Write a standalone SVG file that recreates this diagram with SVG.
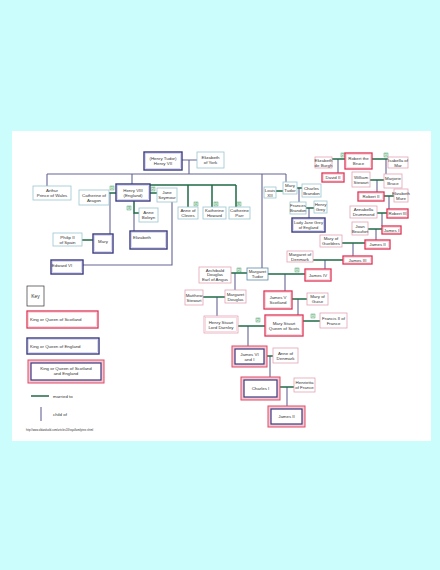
<svg xmlns="http://www.w3.org/2000/svg" width="440" height="570" viewBox="0 0 440 570">
<style>
text{font-family:"Liberation Sans",Arial,sans-serif;font-size:4.4px;fill:#333;text-anchor:middle}
.k{text-anchor:start}
.sp{fill:#fff;stroke:#9cc6cf;stroke-width:0.8}
.ss{fill:#fff;stroke:#e3a2b4;stroke-width:0.8}
.eo{fill:#fff;stroke:#3a3a80;stroke-width:1.4}
.ei{fill:none;stroke:#b4b4e2;stroke-width:0.5}
.so{fill:#fff;stroke:#df3355;stroke-width:1.3}
.si{fill:none;stroke:#f3b6c4;stroke-width:0.5}
.bo{fill:#f6c8d2;stroke:#e04a66;stroke-width:1}
.bi{fill:#fff;stroke:#3a3a80;stroke-width:1.2}
.m{stroke:#1f6b45;stroke-width:1.5;fill:none}
.c{stroke:#646496;stroke-width:1.1;fill:none}
.tg rect{fill:#dcf2dc;stroke:#2e8b57;stroke-width:0.4}
.tg text{font-size:3.2px;fill:#2e8b57}
</style>
<rect width="440" height="570" fill="#cbfdfd"/>
<rect x="12" y="131" width="419" height="310" fill="#fff"/>

<g id="connectors">
<!-- child lines -->
<path class="c" d="M182 160H197M189 160V174M47 174H286M47 174V186M132 174V184M262 174V268M286 174V182"/>
<path class="c" d="M110 193V234M134 213V231M172 202V265H83"/>
<path class="c" d="M299 188V202M309 208V218"/>
<path class="c" d="M338 159V173M386 159V174M377 180V192M389 196V209M382 213V226M376 229V240M353 243V256M325 260V269"/>
<path class="c" d="M235 273V290M285 274V291M217 297V316M298 299V315M248 326V346M270 356V377M287 387V406"/>
<!-- marriage lines -->
<path class="m" d="M109 193H116M150 193H157M134 201V213H139M150 185H236M188 185V207M212 185V207M236 185V207"/>
<path class="m" d="M276 191H283M297 188H302M306 208H314M82 240H93"/>
<path class="m" d="M332 159H345M372 159H388M370 180H384M384 196H394M377 213H387M368 229H382M342 243H365M313 260H343"/>
<path class="m" d="M231 273H247M268 274H305M203 297H225M292 299H307M238 326H265M303 321H320M267 356H273M280 387H294"/>
</g>

<g id="tags" class="tg">
<rect x="110" y="186" width="4" height="4"/><text x="112" y="189.2">1</text>
<rect x="151" y="187" width="4" height="4"/><text x="153" y="190.2">2</text>
<rect x="127" y="206" width="4" height="4"/><text x="129" y="209.2">3</text>
<rect x="194" y="202" width="4" height="4"/><text x="196" y="205.2">4</text>
<rect x="214" y="202" width="4" height="4"/><text x="216" y="205.2">5</text>
<rect x="237" y="202" width="4" height="4"/><text x="239" y="205.2">6</text>
<rect x="341" y="153" width="4" height="4"/><text x="343" y="156.2">2</text>
<rect x="384" y="153" width="4" height="4"/><text x="386" y="156.2">1</text>
<rect x="237" y="268" width="4" height="4"/><text x="239" y="271.2">2</text>
<rect x="295" y="268" width="4" height="4"/><text x="297" y="271.2">1</text>
<rect x="256" y="318" width="4" height="4"/><text x="258" y="321.2">2</text>
<rect x="311" y="314" width="4" height="4"/><text x="313" y="317.2">1</text>
</g>

<g id="henry7"><rect class="eo" x="144" y="152" width="38" height="18"/><rect class="ei" x="145.5" y="153.5" width="35" height="15"/><text x="163" y="160.2">(Henry Tudor)</text><text x="163" y="165.2">Henry VII</text></g>
<g id="elizabethYork"><rect class="sp" x="197" y="152" width="27" height="16"/><text x="210.5" y="159.2">Elizabeth</text><text x="210.5" y="164.2">of York</text></g>
<g id="arthur"><rect class="sp" x="33" y="186" width="38" height="14"/><text x="52" y="192.2">Arthur</text><text x="52" y="197.2">Prince of Wales</text></g>
<g id="catherineAragon"><rect class="sp" x="79" y="190" width="30" height="15"/><text x="94" y="196.7">Catherine of</text><text x="94" y="201.7">Aragon</text></g>
<g id="henry8"><rect class="eo" x="116" y="184" width="34" height="17"/><rect class="ei" x="117.5" y="185.5" width="31" height="14"/><text x="133" y="191.7">Henry VIII</text><text x="133" y="196.7">(England)</text></g>
<g id="janeSeymour"><rect class="sp" x="157" y="188" width="20" height="14"/><text x="167" y="194.2">Jane</text><text x="167" y="199.2">Seymour</text></g>
<g id="anneBoleyn"><rect class="sp" x="139" y="208" width="19" height="14"/><text x="148.5" y="214.2">Anne</text><text x="148.5" y="219.2">Boleyn</text></g>
<g id="anneCleves"><rect class="sp" x="178" y="207" width="20" height="12"/><text x="188" y="212.2">Anne of</text><text x="188" y="217.2">Cleves</text></g>
<g id="katherineHoward"><rect class="sp" x="203" y="207" width="23" height="12"/><text x="214.5" y="212.2">Katherine</text><text x="214.5" y="217.2">Howard</text></g>
<g id="catherineParr"><rect class="sp" x="229" y="207" width="21" height="12"/><text x="239.5" y="212.2">Catherine</text><text x="239.5" y="217.2">Parr</text></g>
<g id="louis12"><rect class="sp" x="264" y="187" width="12" height="11"/><text x="270" y="191.7">Louis</text><text x="270" y="196.7">XII</text></g>
<g id="maryTudor"><rect class="sp" x="283" y="182" width="14" height="12"/><text x="290" y="187.2">Mary</text><text x="290" y="192.2">Tudor</text></g>
<g id="charlesBrandon"><rect class="sp" x="302" y="184" width="19" height="13"/><text x="311.5" y="189.7">Charles</text><text x="311.5" y="194.7">Brandon</text></g>
<g id="francesBrandon"><rect class="sp" x="290" y="202" width="16" height="12"/><text x="298" y="207.2">Frances</text><text x="298" y="212.2">Brandon</text></g>
<g id="henryGrey"><rect class="sp" x="314" y="201" width="13" height="12"/><text x="320.5" y="206.2">Henry</text><text x="320.5" y="211.2">Grey</text></g>
<g id="ladyJaneGrey"><rect class="eo" x="292" y="218" width="33" height="14"/><rect class="ei" x="293.5" y="219.5" width="30" height="11"/><text x="308.5" y="224.2" style="font-size:4.1px">Lady Jane Grey</text><text x="308.5" y="229.2" style="font-size:4.1px">of England</text></g>
<g id="philip2"><rect class="sp" x="53" y="233" width="29" height="13"/><text x="67.5" y="238.7">Philip II</text><text x="67.5" y="243.7">of Spain</text></g>
<g id="mary1"><rect class="eo" x="93" y="234" width="20" height="19"/><rect class="ei" x="94.5" y="235.5" width="17" height="16"/><text x="103" y="242.5">Mary</text></g>
<g id="elizabeth1"><rect class="eo" x="130" y="231" width="37" height="18"/><rect class="ei" x="131.5" y="232.5" width="34" height="15"/><text x="142" y="238.5">Elizabeth</text></g>
<g id="edward6"><rect class="eo" x="51" y="260" width="32" height="14"/><rect class="ei" x="52.5" y="261.5" width="29" height="11"/><text x="62" y="266.5">Edward VI</text></g>

<g id="elizabethBurgh"><rect class="ss" x="315" y="157" width="17" height="11"/><text x="323.5" y="161.7">Elizabeth</text><text x="323.5" y="166.7">de Burgh</text></g>
<g id="robertBruce"><rect class="so" x="345" y="153" width="27" height="16"/><rect class="si" x="346.5" y="154.5" width="24" height="13"/><text x="358.5" y="160.2">Robert the</text><text x="358.5" y="165.2">Bruce</text></g>
<g id="isabellaMar"><rect class="ss" x="388" y="157" width="20" height="11"/><text x="398" y="161.7">Isabella of</text><text x="398" y="166.7">Mar</text></g>
<g id="david2"><rect class="so" x="322" y="173" width="22" height="9"/><rect class="si" x="323.5" y="174.5" width="19" height="6"/><text x="333" y="179.1">David II</text></g>
<g id="williamStewart"><rect class="ss" x="352" y="172" width="18" height="15"/><text x="361" y="178.7">William</text><text x="361" y="183.7">Stewart</text></g>
<g id="marjorieBruce"><rect class="ss" x="384" y="174" width="18" height="14"/><text x="393" y="180.2">Marjorie</text><text x="393" y="185.2">Bruce</text></g>
<g id="robert2"><rect class="so" x="358" y="192" width="26" height="9"/><rect class="si" x="359.5" y="193.5" width="23" height="6"/><text x="371" y="198.1">Robert II</text></g>
<g id="elizabethMure"><rect class="ss" x="394" y="189" width="14" height="13"/><text x="401" y="194.7">Elizabeth</text><text x="401" y="199.7">Mure</text></g>
<g id="annabellaDrummond"><rect class="ss" x="350" y="206" width="27" height="12"/><text x="363.5" y="211.2">Annabella</text><text x="363.5" y="216.2">Drummond</text></g>
<g id="robert3"><rect class="so" x="387" y="209" width="21" height="9"/><rect class="si" x="388.5" y="210.5" width="18" height="6"/><text x="397.5" y="215.1">Robert III</text></g>
<g id="joanBeaufort"><rect class="ss" x="352" y="222" width="16" height="13"/><text x="360" y="227.7">Joan</text><text x="360" y="232.7">Beaufort</text></g>
<g id="james1"><rect class="so" x="382" y="226" width="19" height="8"/><rect class="si" x="383.5" y="227.5" width="16" height="5"/><text x="391.5" y="231.6">James I</text></g>
<g id="maryGueldres"><rect class="ss" x="320" y="235" width="22" height="12"/><text x="331" y="240.2">Mary of</text><text x="331" y="245.2">Gueldres</text></g>
<g id="james2s"><rect class="so" x="365" y="240" width="25" height="9"/><rect class="si" x="366.5" y="241.5" width="22" height="6"/><text x="377.5" y="246.1">James II</text></g>
<g id="margaretDenmark"><rect class="ss" x="287" y="251" width="26" height="11"/><text x="300" y="255.7">Margaret of</text><text x="300" y="260.7">Denmark</text></g>
<g id="james3"><rect class="so" x="343" y="256" width="29" height="8"/><rect class="si" x="344.5" y="257.5" width="26" height="5"/><text x="357.5" y="261.6">James III</text></g>
<g id="james4"><rect class="so" x="305" y="269" width="26" height="12"/><rect class="si" x="306.5" y="270.5" width="23" height="9"/><text x="318" y="276.6">James IV</text></g>
<g id="margaretTudor"><rect class="sp" x="247" y="268" width="21" height="12" style="stroke:#5a8aa8"/><text x="257.5" y="273.2">Margaret</text><text x="257.5" y="278.2">Tudor</text></g>
<g id="archibaldDouglas"><rect class="ss" x="199" y="267" width="32" height="16"/><text x="215" y="271.6">Archibald</text><text x="215" y="276.3">Douglas</text><text x="215" y="281">Earl of Angus</text></g>
<g id="matthewStewart"><rect class="ss" x="185" y="290" width="18" height="15"/><text x="194" y="296.7">Matthew</text><text x="194" y="301.7">Stewart</text></g>
<g id="margaretDouglas"><rect class="ss" x="225" y="290" width="21" height="13"/><text x="235.5" y="295.7">Margaret</text><text x="235.5" y="300.7">Douglas</text></g>
<g id="james5"><rect class="so" x="264" y="291" width="28" height="18"/><rect class="si" x="265.5" y="292.5" width="25" height="15"/><text x="278" y="299.2">James V</text><text x="278" y="304.2">Scotland</text></g>
<g id="maryGuise"><rect class="ss" x="307" y="293" width="21" height="12"/><text x="317.5" y="298.2">Mary of</text><text x="317.5" y="303.2">Guise</text></g>
<g id="henryDarnley"><rect class="ss" x="204" y="316" width="34" height="17"/><rect class="si" x="205.5" y="317.5" width="31" height="14"/><text x="221" y="323.7">Henry Stuart</text><text x="221" y="328.7">Lord Darnley</text></g>
<g id="maryStuart"><rect class="so" x="265" y="315" width="38" height="21"/><rect class="si" x="266.5" y="316.5" width="35" height="18"/><text x="284" y="324.7">Mary Stuart</text><text x="284" y="329.7">Queen of Scots</text></g>
<g id="francis2"><rect class="ss" x="320" y="313" width="27" height="15"/><text x="333.5" y="319.7">Francis II of</text><text x="333.5" y="324.7">France</text></g>
<g id="james6"><rect class="bo" x="232" y="346" width="35" height="21"/><rect class="bi" x="235" y="349" width="29" height="15"/><text x="249.5" y="355.7">James VI</text><text x="249.5" y="360.7">and I</text></g>
<g id="anneDenmark"><rect class="ss" x="273" y="348" width="25" height="15"/><text x="285.5" y="354.7">Anne of</text><text x="285.5" y="359.7">Denmark</text></g>
<g id="charles1"><rect class="bo" x="241" y="377" width="39" height="23"/><rect class="bi" x="244" y="380" width="33" height="17"/><text x="260.5" y="390.1">Charles I</text></g>
<g id="henrietta"><rect class="ss" x="294" y="378" width="21" height="14"/><text x="304.5" y="384.2">Henrietta</text><text x="304.5" y="389.2">of France</text></g>
<g id="james2e"><rect class="bo" x="268" y="406" width="37" height="21"/><rect class="bi" x="271" y="409" width="31" height="15"/><text x="286.5" y="418.1">James II</text></g>

<g id="key">
<rect x="27" y="286" width="17" height="20" fill="#fff" stroke="#333" stroke-width="0.7"/><text x="35.5" y="297.8" style="font-size:5px">Key</text>
<rect class="so" x="27" y="311" width="71" height="17"/><rect class="si" x="28.5" y="312.5" width="68" height="14"/><text class="k" x="30" y="321.1">King or Queen of Scotland</text>
<rect class="eo" x="27" y="338" width="72" height="16"/><rect class="ei" x="28.5" y="339.5" width="69" height="13"/><text class="k" x="30" y="347.6">King or Queen of England</text>
<rect class="bo" x="28" y="360" width="76" height="23"/><rect class="bi" x="31" y="363" width="70" height="17"/><text x="66" y="370.2">King or Queen of Scotland</text><text x="66" y="375.2">and England</text>
<path class="m" d="M31 396H49"/><text class="k" x="53" y="397.5">married to</text>
<path class="c" d="M41 407V421"/><text class="k" x="53" y="415.5">child of</text>
<text class="k" x="26" y="430.5" style="font-size:2.6px">http://www.oldandsold.com/articles18/royalfamilytree.shtml</text>
</g>
</svg>
